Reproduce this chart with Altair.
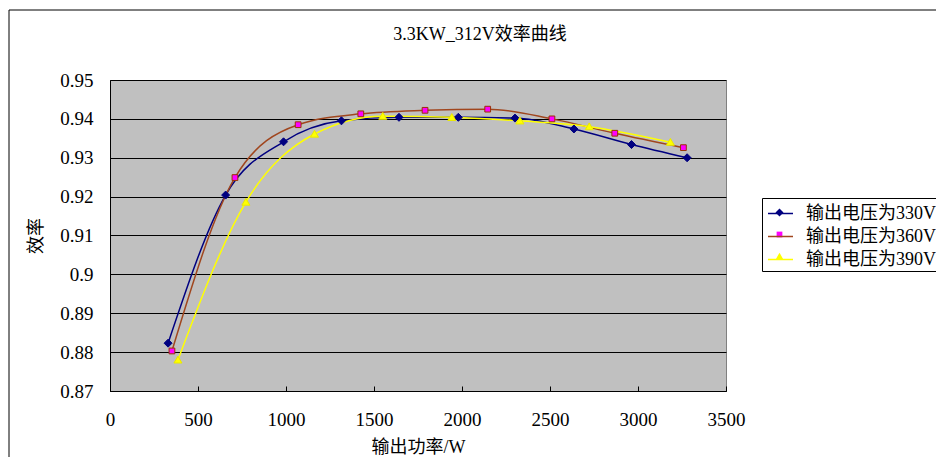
import altair as alt
import pandas as pd

# ---- data ----
series_names = ["输出电压为330V", "输出电压为360V", "输出电压为390V"]

power_330 = [330, 657, 986, 1315, 1642, 1979, 2301, 2636, 2963, 3279]
eff_330 = [0.8823, 0.9204, 0.9341, 0.9395, 0.9404, 0.9404, 0.9402, 0.9374, 0.9334, 0.9300]

power_360 = [352, 710, 1069, 1425, 1790, 2146, 2511, 2868, 3258]
eff_360 = [0.8803, 0.9249, 0.9385, 0.9413, 0.9422, 0.9425, 0.9400, 0.9363, 0.9326]

power_390 = [386, 772, 1162, 1550, 1942, 2329, 2723, 3184]
eff_390 = [0.8780, 0.9186, 0.9361, 0.9407, 0.9404, 0.9395, 0.9380, 0.9340]

x_ticks = [0, 500, 1000, 1500, 2000, 2500, 3000, 3500]
y_ticks = [0.87, 0.88, 0.89, 0.90, 0.91, 0.92, 0.93, 0.94, 0.95]

title_text = "3.3KW_312V效率曲线"
x_title = "输出功率/W"
y_title = "效率"

line_colors = ["#000080", "#A0461E", "#FFFF00"]
marker_fill = ["#000080", "#FF00FF", "#FFFF00"]
marker_stroke = ["#000080", "#993300", "#E8E800"]
marker_paths = [
    "M0,-0.32L0.32,0L0,0.32L-0.32,0Z",
    "M-0.23,-0.23H0.23V0.23H-0.23Z",
    "M0,-0.3L0.32,0.25H-0.32Z",
]

rows = []
for name, ps, es in zip(series_names, [power_330, power_360, power_390],
                        [eff_330, eff_360, eff_390]):
    for p, e in zip(ps, es):
        rows.append({"power": p, "eff": e, "series": name})
df = pd.DataFrame(rows)

W, H = 616, 311
MIXED = "'Liberation Serif', 'Times New Roman', 'Noto Sans CJK SC', serif"
NUM = "'Liberation Serif', 'Times New Roman', serif"

xscale = alt.Scale(domain=[0, 3500], nice=False, zero=False)
yscale = alt.Scale(domain=[0.87, 0.95], nice=False, zero=False)

LEG_X, LEG_Y = 652, 118
common_leg = dict(
    orient="none", legendX=LEG_X, legendY=LEG_Y, title=None,
    labelFont=MIXED, labelFontSize=18, labelLimit=0,
    symbolSize=625, padding=2, symbolOffset=3, rowPadding=0,
    labelOffset=12,
)

line_legend = alt.Legend(
    symbolType="stroke", symbolStrokeWidth=1.5,
    strokeColor="black", labelColor="black", **common_leg,
)
point_legend = alt.Legend(
    symbolStrokeWidth=0, labelExpr="''", **common_leg,
)

lines = alt.Chart(df).mark_line(interpolate="monotone", strokeWidth=1.5).encode(
    x=alt.X("power:Q", scale=xscale, axis=alt.Axis(
        values=x_ticks, title=x_title, ticks=False, grid=False, format="d",
        labelFlush=False, labelOverlap=False,
        labelPadding=19, titlePadding=9, domainColor="black",
        labelFont=NUM, labelFontSize=19, labelColor="black",
        titleFont=MIXED, titleFontSize=18, titleFontWeight="normal", titleColor="black",
    )),
    y=alt.Y("eff:Q", scale=yscale, axis=alt.Axis(
        values=y_ticks, title=y_title, ticks=False, grid=True,
        gridColor="black", gridOpacity=1, gridWidth=1,
        labelExpr="format(datum.value, '.2~f')",
        labelFlush=False, labelOverlap=False,
        labelPadding=17, titlePadding=14, domainColor="black",
        labelFont=NUM, labelFontSize=19, labelColor="black",
        titleFont=MIXED, titleFontSize=18, titleFontWeight="normal", titleColor="black",
    )),
    stroke=alt.Stroke("series:N", scale=alt.Scale(domain=series_names, range=line_colors),
                      legend=line_legend),
)

points = alt.Chart(df).mark_point(size=625, strokeWidth=1, opacity=1, fillOpacity=1).encode(
    x=alt.X("power:Q", scale=xscale, axis=alt.Axis(
        orient="top", offset=-H, values=x_ticks, labels=False, domain=False,
        grid=False, ticks=True, tickSize=5, tickColor="black", title=None,
    )),
    y=alt.Y("eff:Q", scale=yscale, axis=alt.Axis(
        orient="right", offset=-W, values=y_ticks, labels=False, domain=False,
        grid=False, ticks=True, tickSize=5, tickColor="black", title=None,
    )),
    shape=alt.Shape("series:N", scale=alt.Scale(domain=series_names, range=marker_paths),
                    legend=point_legend),
    fill=alt.Fill("series:N", scale=alt.Scale(domain=series_names, range=marker_fill),
                  legend=point_legend),
    stroke=alt.Stroke("series:N", scale=alt.Scale(domain=series_names, range=marker_stroke),
                      legend=None),
)

one = pd.DataFrame({"title": [title_text]})
frame_top = alt.Chart(one).mark_rule(color="black", strokeWidth=1).encode(
    x=alt.value(-101), x2=alt.value(900), y=alt.value(-70))
frame_left = alt.Chart(one).mark_rule(color="black", strokeWidth=1).encode(
    x=alt.value(-101), y=alt.value(-70), y2=alt.value(500))
title_mark = alt.Chart(one).mark_text(
    font=MIXED, fontSize=18, color="black", align="center", baseline="middle"
).encode(text="title:N", x=alt.value(370), y=alt.value(-45))

chart = alt.layer(frame_top, frame_left, title_mark, lines, points).resolve_scale(
    stroke="independent"
).resolve_axis(
    x="independent", y="independent"
).properties(
    width=W, height=H,
    autosize=alt.AutoSizeParams(type="none"),
    padding={"left": 102, "top": 72, "right": 210, "bottom": 66},
    background="white",
).configure_view(
    fill="#C0C0C0", stroke="#808080", strokeWidth=1,
)

chart.save("out.html", embed_options={"renderer": "svg", "actions": False})
